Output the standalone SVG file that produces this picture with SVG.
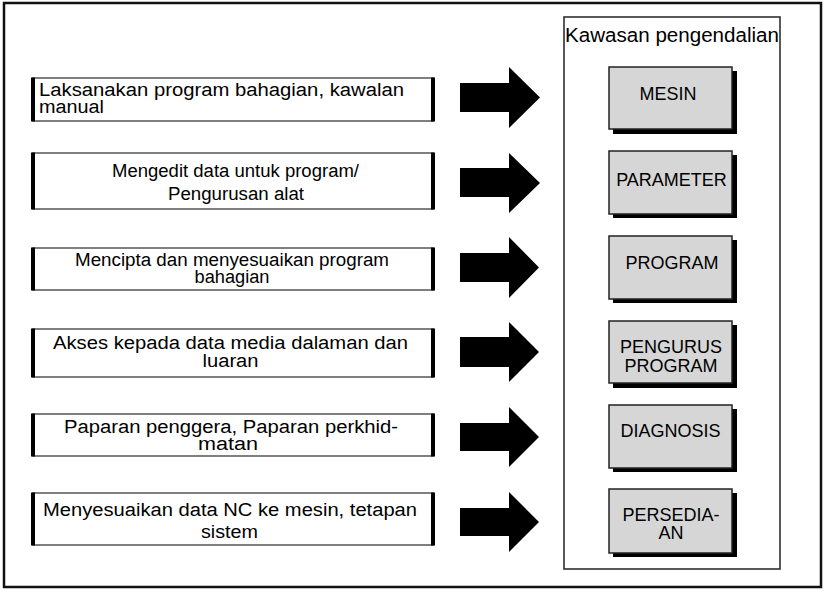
<svg xmlns="http://www.w3.org/2000/svg" width="828" height="599" viewBox="0 0 828 599">
<defs>
<style>
.t{font-family:"Liberation Sans",Arial,sans-serif;font-size:18px;fill:#000}
.c{text-anchor:middle}
.lbox{fill:#fff;stroke:#555;stroke-width:1.5}
.bar{stroke:#000;stroke-width:4}
.shadow{fill:#000}
.gbox{fill:#d6d6d6;stroke:#222;stroke-width:1.5}
.arrow{fill:#000}
</style>
</defs>
<rect width="828" height="599" fill="#fff"/>
<rect x="4" y="3" width="817" height="584" fill="none" stroke="#111" stroke-width="2.5"/>
<g id="panel">
<rect x="564" y="17" width="216" height="552" fill="none" stroke="#222" stroke-width="1.5"/>
<text class="t" x="565" y="41.5" textLength="214" lengthAdjust="spacingAndGlyphs" style="font-size:20px">Kawasan pengendalian</text>
</g>

<g id="task1">
<rect class="lbox" x="33" y="78" width="400" height="43"/>
<line class="bar" x1="33" y1="77.5" x2="33" y2="121.5"/><line class="bar" x1="433" y1="77.5" x2="433" y2="121.5"/>
<text class="t" x="39" y="96" textLength="365" lengthAdjust="spacingAndGlyphs">Laksanakan program bahagian, kawalan</text>
<text class="t" x="39" y="113" textLength="65" lengthAdjust="spacingAndGlyphs">manual</text>
</g>
<g id="task2">
<rect class="lbox" x="33" y="153" width="400" height="56"/>
<line class="bar" x1="33" y1="152.5" x2="33" y2="209.5"/><line class="bar" x1="433" y1="152.5" x2="433" y2="209.5"/>
<text class="t c" x="235.5" y="177" textLength="247" lengthAdjust="spacingAndGlyphs">Mengedit data untuk program/</text>
<text class="t c" x="236" y="200" textLength="136" lengthAdjust="spacingAndGlyphs">Pengurusan alat</text>
</g>
<g id="task3">
<rect class="lbox" x="33" y="248" width="400" height="42"/>
<line class="bar" x1="33" y1="247.5" x2="33" y2="290.5"/><line class="bar" x1="433" y1="247.5" x2="433" y2="290.5"/>
<text class="t c" x="232" y="266" textLength="314" lengthAdjust="spacingAndGlyphs">Mencipta dan menyesuaikan program</text>
<text class="t c" x="232" y="283" textLength="75" lengthAdjust="spacingAndGlyphs">bahagian</text>
</g>
<g id="task4">
<rect class="lbox" x="33" y="329" width="400" height="48"/>
<line class="bar" x1="33" y1="328.5" x2="33" y2="377.5"/><line class="bar" x1="433" y1="328.5" x2="433" y2="377.5"/>
<text class="t c" x="230.5" y="349" textLength="355" lengthAdjust="spacingAndGlyphs">Akses kepada data media dalaman dan</text>
<text class="t c" x="230.5" y="367" textLength="56" lengthAdjust="spacingAndGlyphs">luaran</text>
</g>
<g id="task5">
<rect class="lbox" x="33" y="414" width="400" height="42"/>
<line class="bar" x1="33" y1="413.5" x2="33" y2="456.5"/><line class="bar" x1="433" y1="413.5" x2="433" y2="456.5"/>
<text class="t c" x="231" y="433" textLength="334" lengthAdjust="spacingAndGlyphs">Paparan penggera, Paparan perkhid-</text>
<text class="t c" x="228" y="450" textLength="60" lengthAdjust="spacingAndGlyphs">matan</text>
</g>
<g id="task6">
<rect class="lbox" x="33" y="493" width="400" height="52"/>
<line class="bar" x1="33" y1="492.5" x2="33" y2="545.5"/><line class="bar" x1="433" y1="492.5" x2="433" y2="545.5"/>
<text class="t c" x="230" y="515.5" textLength="374" lengthAdjust="spacingAndGlyphs">Menyesuaikan data NC ke mesin, tetapan</text>
<text class="t c" x="229.5" y="537.5" textLength="57" lengthAdjust="spacingAndGlyphs">sistem</text>
</g>

<g id="connectors">
<polygon class="arrow" points="460,83 509,83 509,67 540,97.5 509,128 509,112 460,112"/>
<polygon class="arrow" points="460,168 509,168 509,153 540,183 509,213 509,197 460,197"/>
<polygon class="arrow" points="460,253 509,253 509,237 539,267.5 509,298 509,282 460,282"/>
<polygon class="arrow" points="460,337 509,337 509,322 539,352 509,382 509,367 460,367"/>
<polygon class="arrow" points="460,423 509,423 509,407 539,437 509,467 509,451 460,451"/>
<polygon class="arrow" points="460,508 509,508 509,492 539,522 509,552 509,536 460,536"/>
</g>

<g id="mesin">
<rect class="shadow" x="613" y="71" width="124" height="63"/>
<rect class="gbox" x="609" y="67" width="123" height="62"/>
<text class="t c" x="668" y="99.5">MESIN</text>
</g>
<g id="parameter">
<rect class="shadow" x="613" y="155" width="124" height="63"/>
<rect class="gbox" x="609" y="151" width="123" height="63"/>
<text class="t c" x="671.5" y="186">PARAMETER</text>
</g>
<g id="program">
<rect class="shadow" x="613" y="240" width="124" height="63"/>
<rect class="gbox" x="609" y="236" width="123" height="63"/>
<text class="t c" x="672" y="269">PROGRAM</text>
</g>
<g id="pengurus">
<rect class="shadow" x="613" y="325" width="124" height="63"/>
<rect class="gbox" x="609" y="321" width="123" height="62"/>
<text class="t c" x="671" y="353">PENGURUS</text>
<text class="t c" x="671" y="372">PROGRAM</text>
</g>
<g id="diagnosis">
<rect class="shadow" x="613" y="409" width="124" height="63"/>
<rect class="gbox" x="609" y="405" width="123" height="63"/>
<text class="t c" x="670.5" y="437">DIAGNOSIS</text>
</g>
<g id="persediaan">
<rect class="shadow" x="613" y="493" width="124" height="64"/>
<rect class="gbox" x="609" y="489" width="123" height="64"/>
<text class="t c" x="671" y="521">PERSEDIA-</text>
<text class="t c" x="671" y="539">AN</text>
</g>
</svg>
